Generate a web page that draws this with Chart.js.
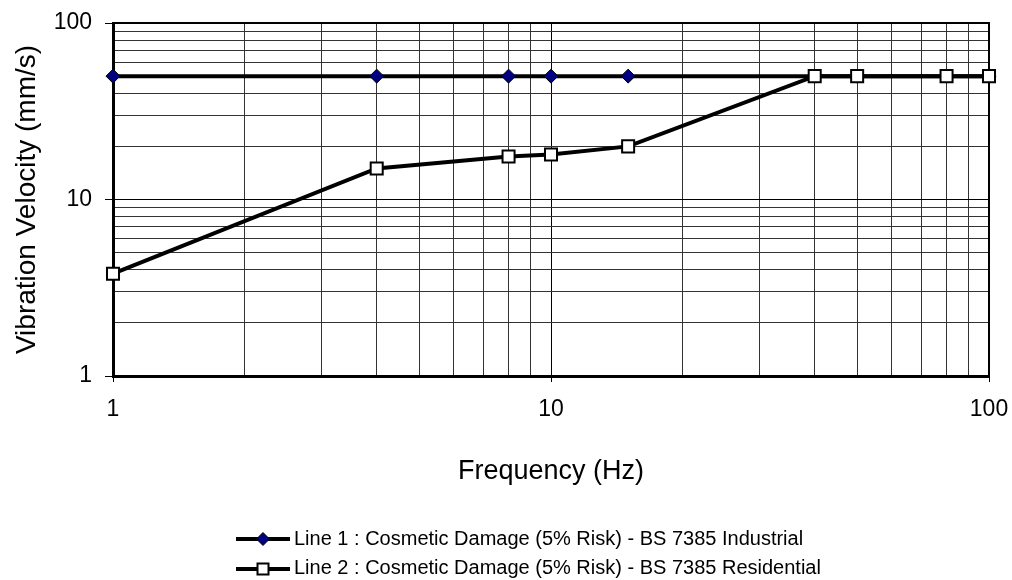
<!DOCTYPE html>
<html>
<head>
<meta charset="utf-8">
<script src="https://cdn.jsdelivr.net/npm/chart.js@4.4.1/dist/chart.umd.min.js"></script>
<style>
  html, body { margin: 0; padding: 0; background: #fff; }
  #wrap { width: 1012px; height: 580px; }
</style>
</head>
<body>
<div id="wrap"><canvas id="vibchart" width="1012" height="580"></canvas></div>
<script>
// values
const seriesNames = [
  'Line 1 : Cosmetic Damage (5% Risk) - BS 7385 Industrial',
  'Line 2 : Cosmetic Damage (5% Risk) - BS 7385 Residential'
];
const freqIndustrial = [1, 4, 8, 10, 15, 40, 50, 80, 100];
const velIndustrial = [50, 50, 50, 50, 50, 50, 50, 50, 50];
const freqResidential = [1, 4, 8, 10, 15, 40, 50, 80, 100];
const velResidential = [3.8, 15, 17.5, 18, 20, 50, 50, 50, 50];
const gridTicks = [1, 2, 3, 4, 5, 6, 7, 8, 9, 10, 20, 30, 40, 50, 60, 70, 80, 90, 100];
const labelTicks = [1, 10, 100];

Chart.defaults.font.family = "'Liberation Sans', Arial, sans-serif";
Chart.defaults.color = '#000';

const pts = (xs, ys) => xs.map((x, i) => ({ x: x, y: ys[i] }));

// little line+marker pictures for the legend
function legendIcon(kind) {
  const c = document.createElement('canvas');
  c.width = 54;
  c.height = 16;
  const g = c.getContext('2d');
  g.strokeStyle = '#000';
  g.lineWidth = 4;
  g.beginPath();
  g.moveTo(0, 8);
  g.lineTo(54, 8);
  g.stroke();
  if (kind === 'diamond') {
    g.beginPath();
    g.moveTo(27, 1.5); g.lineTo(33.5, 8); g.lineTo(27, 14.5); g.lineTo(20.5, 8);
    g.closePath();
    g.fillStyle = '#000080';
    g.fill();
    g.lineWidth = 1;
    g.stroke();
  } else {
    g.fillStyle = '#fff';
    g.fillRect(21.5, 2.5, 11, 11);
    g.lineWidth = 2;
    g.strokeRect(21.5, 2.5, 11, 11);
  }
  return c;
}

const setTicks = scale => {
  scale.ticks = gridTicks.map(v => ({ value: v, major: labelTicks.includes(v) }));
};

// keep the plot box where the reference has it
const fitX = s => {
  s.height = 116;
  s.paddingLeft = 0;
  s.paddingRight = 0;
};
const fitY = s => {
  s.width = 113;
  s.paddingTop = 0;
  s.paddingBottom = 0;
};

const plotFrame = {
  id: 'plotFrame',
  beforeDatasetsDraw(chart) {
    const { ctx, chartArea: a } = chart;
    ctx.save();
    ctx.strokeStyle = '#000';
    ctx.lineWidth = 2;
    ctx.beginPath();
    ctx.moveTo(a.left, a.top);
    ctx.lineTo(a.right, a.top);
    ctx.lineTo(a.right, a.bottom);
    ctx.stroke();
    ctx.restore();
  }
};

const bottomLegend = {
  id: 'bottomLegend',
  afterDraw(chart) {
    const ctx = chart.ctx;
    ctx.save();
    ctx.font = "20px 'Liberation Sans', Arial, sans-serif";
    ctx.fillStyle = '#000';
    ctx.textBaseline = 'middle';
    ctx.textAlign = 'left';
    chart.data.datasets.forEach((ds, i) => {
      const y = 539 + i * 29.5;
      ctx.drawImage(ds.icon, 236, Math.round(y - 8));
      ctx.fillText(ds.label, 294, y);
    });
    ctx.restore();
  }
};

new Chart(document.getElementById('vibchart'), {
  type: 'scatter',
  data: {
    datasets: [
      {
        label: seriesNames[0],
        data: pts(freqIndustrial, velIndustrial),
        showLine: true,
        borderColor: '#000',
        borderWidth: 4,
        pointStyle: 'rectRot',
        pointRadius: 7,
        pointBackgroundColor: '#000080',
        pointBorderColor: '#000',
        pointBorderWidth: 1,
        clip: false,
        order: 2,
        icon: legendIcon('diamond')
      },
      {
        label: seriesNames[1],
        data: pts(freqResidential, velResidential),
        showLine: true,
        borderColor: '#000',
        borderWidth: 4,
        pointStyle: 'rect',
        pointRadius: 8.5,
        pointBackgroundColor: '#fff',
        pointBorderColor: '#000',
        pointBorderWidth: 2,
        clip: false,
        order: 1,
        icon: legendIcon('square')
      }
    ]
  },
  options: {
    responsive: false,
    animation: false,
    layout: { padding: { left: 0, right: 23, top: 23, bottom: 88 } },
    plugins: {
      legend: { display: false },
      tooltip: { enabled: false }
    },
    scales: {
      x: {
        type: 'logarithmic',
        min: 1,
        max: 100,
        afterBuildTicks: setTicks,
        afterFit: fitX,
        grid: {
          color: c => (c.tick && c.tick.major ? '#000' : '#333'),
          tickColor: c => (c.tick && c.tick.major ? '#000' : 'rgba(0,0,0,0)'),
          tickLength: 6,
          lineWidth: 1
        },
        border: { display: true, color: '#000', width: 3 },
        ticks: {
          autoSkip: false,
          maxRotation: 0,
          padding: 14,
          font: { size: 23 },
          callback: v => (labelTicks.includes(v) ? String(v) : '')
        },
        title: {
          display: true,
          text: 'Frequency (Hz)',
          font: { size: 27 },
          padding: { top: 0, bottom: 4 }
        }
      },
      y: {
        type: 'logarithmic',
        min: 1,
        max: 100,
        afterBuildTicks: setTicks,
        afterFit: fitY,
        grid: {
          color: c => (c.tick && c.tick.major ? '#000' : '#333'),
          tickColor: c => (c.tick && c.tick.major ? '#000' : 'rgba(0,0,0,0)'),
          tickLength: 8,
          lineWidth: 1
        },
        border: { display: true, color: '#000', width: 3 },
        ticks: {
          autoSkip: false,
          padding: 13,
          font: { size: 23 },
          callback: v => (labelTicks.includes(v) ? String(v) : '')
        },
        title: {
          display: true,
          text: 'Vibration Velocity (mm/s)',
          font: { size: 28 },
          padding: { top: 10, bottom: 0 }
        }
      }
    }
  },
  plugins: [plotFrame, bottomLegend]
});
</script>
</body>
</html>
